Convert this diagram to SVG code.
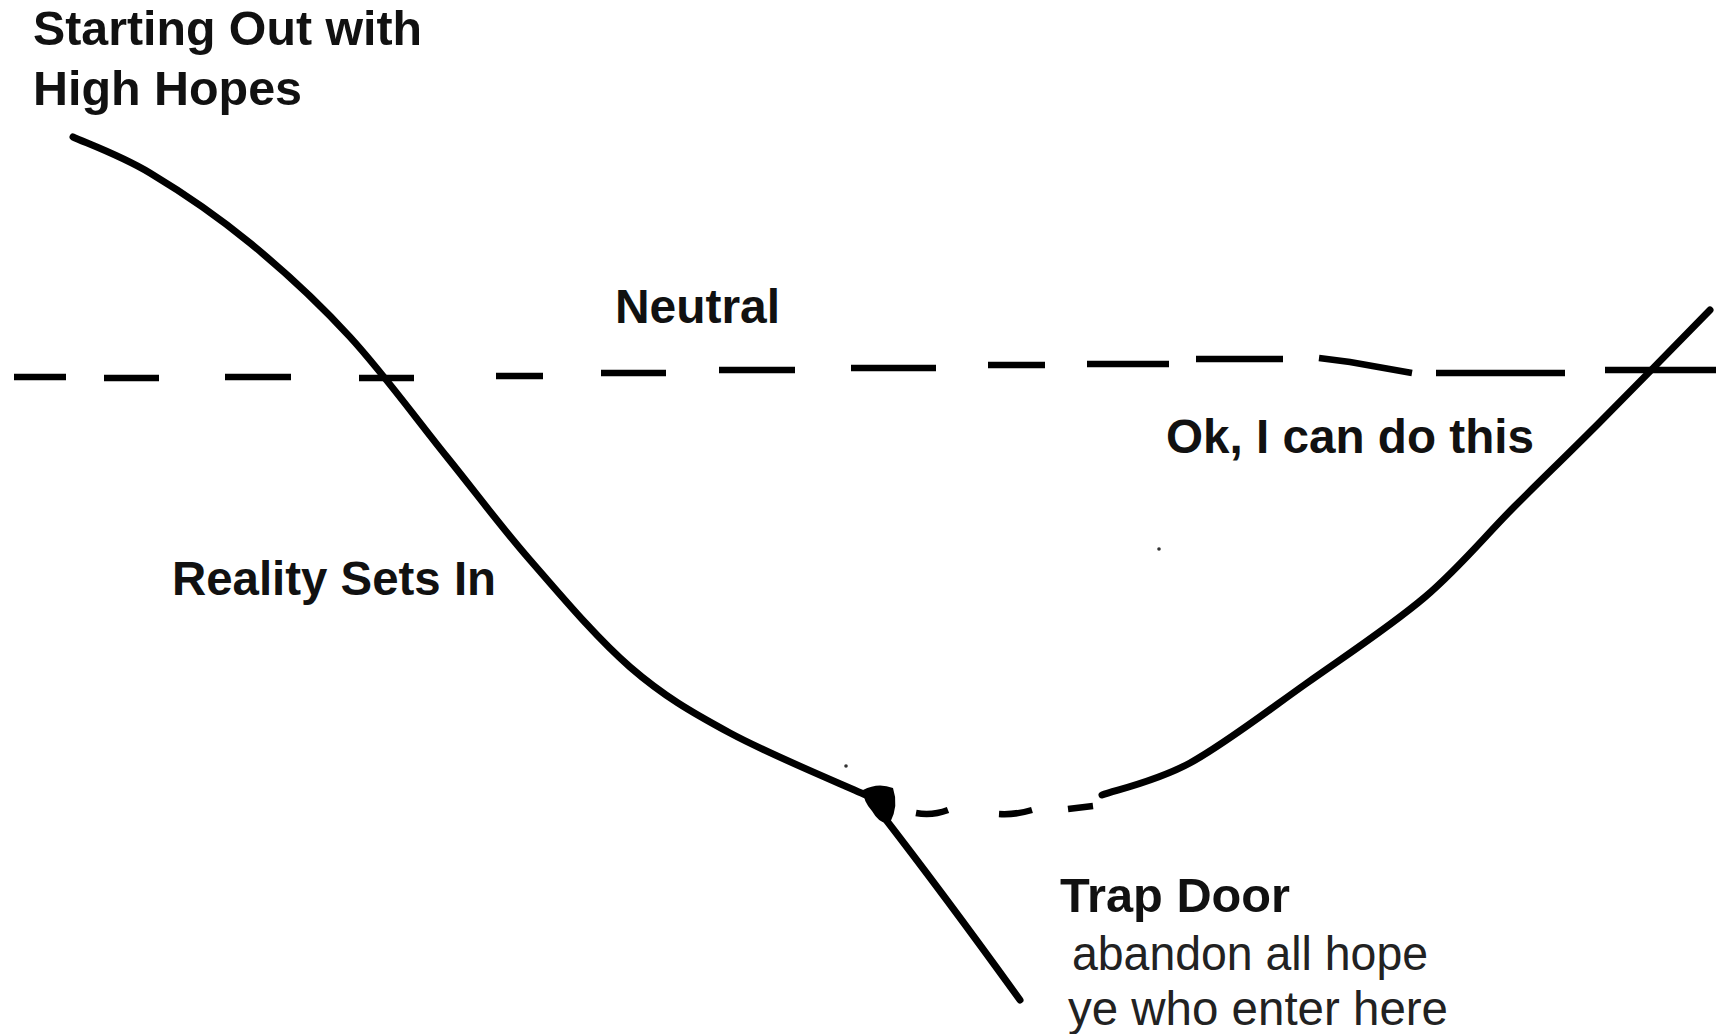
<svg xmlns="http://www.w3.org/2000/svg" width="1716" height="1034" viewBox="0 0 1716 1034">
<style>
.ln{fill:none;stroke:#000;stroke-width:7;stroke-linecap:round;stroke-linejoin:round}
.ds{fill:none;stroke:#000;stroke-width:6.5;stroke-linecap:butt}
.b{font-family:"Liberation Sans",Arial,sans-serif;font-weight:bold;font-size:48px;fill:#111}
.r{font-family:"Liberation Sans",Arial,sans-serif;font-size:48px;fill:#222}
</style>
<rect width="1716" height="1034" fill="#fff"/>
<g id="connectors">
<path id="decline" class="ln" d="M73,137 C86,143 120.5,155.3 150,173 C179.5,190.7 216.7,215.7 250,243 C283.3,270.3 317.2,301.3 350,337 C382.8,372.7 417,419.8 447,457 C477,494.2 499.5,525 530,560 C560.5,595 596.7,638.2 630,667 C663.3,695.8 690.3,711.5 730,733 C769.7,754.5 845,785.5 868,796"/>
<path id="trapdoor" class="ln" d="M880,812 Q945,896 1020,1000"/>
<path id="recovery" class="ln" d="M1102,795 C1116.7,789.7 1155.8,781.7 1190,763 C1224.2,744.3 1267.8,710.7 1307,683 C1346.2,655.3 1390.5,626.3 1425,597 C1459.5,567.7 1485,536 1514,507 C1543,478 1566.3,455.8 1599,423 C1631.7,390.2 1691.5,328.8 1710,310"/>
<g id="neutral-line" class="ds">
<path d="M14,377 H66"/>
<path d="M104,378 H159"/>
<path d="M225,377 H291"/>
<path d="M359,378 H414"/>
<path d="M496,376 H543"/>
<path d="M601,373 H666"/>
<path d="M719,370 H795"/>
<path d="M851,368 H936"/>
<path d="M988,365 H1045"/>
<path d="M1087,364 H1169"/>
<path d="M1196,359 H1283"/>
<path d="M1319,358 L1350,362 L1412,373"/>
<path d="M1436,373 H1565"/>
<path d="M1605,370 H1716"/>
</g>
<g id="bottom-dashes" class="ds">
<path d="M916,813 Q932,816 948,810"/>
<path d="M999,814 Q1015,815 1032,810"/>
<path d="M1068,809 L1093,806"/>
</g>
<path id="node-blob" d="M863,790 Q878,782 893,788 Q899,806 890,823 Q880,825 872,811 Q863,801 863,790 Z" fill="#000"/>
<circle cx="846" cy="766" r="1.8" fill="#333"/>
<circle cx="1159" cy="549" r="1.8" fill="#333"/>
</g>
<g id="label-start">
<text class="b" x="33" y="45" textLength="389" lengthAdjust="spacingAndGlyphs">Starting Out with</text>
<text class="b" x="33" y="105" textLength="269" lengthAdjust="spacingAndGlyphs">High Hopes</text>
</g>
<g id="label-neutral">
<text class="b" x="615" y="323" textLength="165" lengthAdjust="spacingAndGlyphs">Neutral</text>
</g>
<g id="label-ok">
<text class="b" x="1166" y="453" textLength="368" lengthAdjust="spacingAndGlyphs">Ok, I can do this</text>
</g>
<g id="label-reality">
<text class="b" x="172" y="595" textLength="324" lengthAdjust="spacingAndGlyphs">Reality Sets In</text>
</g>
<g id="label-trapdoor">
<text class="b" x="1060" y="912" textLength="230" lengthAdjust="spacingAndGlyphs">Trap Door</text>
<text class="r" x="1072" y="970" textLength="356" lengthAdjust="spacingAndGlyphs">abandon all hope</text>
<text class="r" x="1068" y="1025" textLength="380" lengthAdjust="spacingAndGlyphs">ye who enter here</text>
</g>
</svg>
